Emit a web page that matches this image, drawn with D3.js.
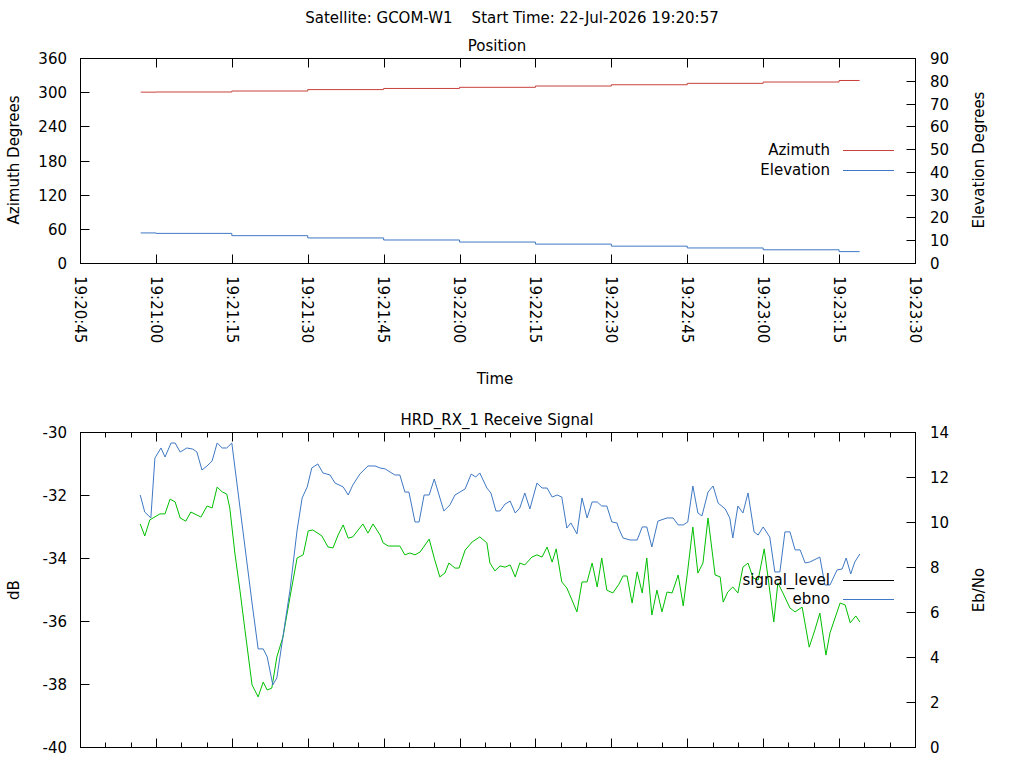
<!DOCTYPE html>
<html><head><meta charset="utf-8">
<script src="https://cdn.jsdelivr.net/npm/d3@7"></script>
<style>body{margin:0;background:#fff}svg{font-family:"DejaVu Sans",sans-serif;font-size:15px}</style>
</head><body><svg id="c" width="1024" height="768"></svg>
<script>
// time offsets in seconds from 19:20:45
const posTime = [12,15,30,45,60,75,90,105,120,135,150,154];
const azimuth = [300,300.3,302,304.5,306.5,308.5,310.8,313,315.5,317.8,320.5,321.5];
const elevation = [13.2,13.0,12.0,11.0,10.1,9.2,8.3,7.4,6.6,5.8,5.0,4.8];
const xTickLabels = ["19:20:45","19:21:00","19:21:15","19:21:30","19:21:45","19:22:00","19:22:15","19:22:30","19:22:45","19:23:00","19:23:15","19:23:30"];
const sigTime = [11.9,12.8,13.8,15.8,16.8,17.8,18.8,19.8,20.9,21.9,23.9,25.1,26.1,27.1,28.1,29.0,29.6,30.6,31.6,32.6,34.0,35.2,36.2,37.0,37.9,38.9,40.1,41.5,42.9,44.1,45.1,46.0,47.8,49.0,50.0,51.0,52.0,53.0,53.9,55.9,56.9,57.9,59.3,59.9,60.9,63.2,64.2,65.2,66.2,67.2,69.0,70.1,71.1,72.1,72.9,74.1,74.9,76.1,77.5,79.0,80.4,81.0,82.0,83.0,84.0,85.0,86.0,86.9,87.9,89.3,90.3,91.3,92.3,93.3,94.1,95.2,96.2,97.2,98.2,99.2,100.2,101.2,102.2,103.1,104.1,105.3,106.5,107.3,108.1,109.1,110.1,111.1,112.0,113.0,114.0,115.0,116.0,117.0,118.2,119.2,120.1,121.1,122.1,123.1,124.1,125.5,126.5,127.1,128.0,129.0,130.0,131.0,132.0,133.0,134.0,135.2,136.1,137.1,137.9,138.9,140.3,141.3,142.7,144.1,145.2,146.2,147.4,148.2,150.2,151.2,152.2,153.3,154.1];
const signalLevel = [-32.92,-33.30,-32.79,-32.60,-32.60,-32.13,-32.22,-32.73,-32.83,-32.54,-32.70,-32.35,-32.41,-31.75,-31.90,-31.97,-32.41,-33.84,-35.02,-36.29,-38.03,-38.41,-37.94,-38.19,-38.13,-37.14,-36.51,-35.24,-34.00,-33.90,-33.14,-33.11,-33.30,-33.65,-33.68,-33.27,-32.95,-33.37,-33.33,-32.92,-33.21,-32.92,-33.27,-33.52,-33.62,-33.62,-33.90,-33.84,-33.90,-33.81,-33.40,-34.06,-34.60,-34.48,-34.16,-34.32,-34.32,-33.75,-33.49,-33.33,-33.52,-34.16,-34.41,-34.25,-34.29,-34.22,-34.60,-34.16,-34.22,-33.97,-33.90,-33.97,-33.65,-34.13,-33.71,-34.76,-34.95,-35.33,-35.71,-34.76,-34.76,-34.16,-34.92,-34.00,-35.02,-35.11,-34.83,-34.57,-34.57,-35.43,-34.44,-35.11,-34.00,-35.81,-35.02,-35.71,-35.08,-35.11,-34.54,-35.52,-34.38,-33.02,-34.48,-34.16,-32.73,-34.54,-34.60,-35.40,-35.08,-34.92,-35.11,-34.29,-34.16,-34.63,-34.70,-33.71,-34.79,-36.03,-34.79,-35.11,-35.59,-35.71,-35.56,-36.83,-36.29,-35.75,-37.08,-36.38,-35.43,-35.49,-36.06,-35.84,-36.03];
const ebnoTime = [11.9,12.8,14.0,14.8,16.0,16.8,18.0,18.8,19.8,21.1,22.3,23.1,24.1,25.1,26.1,27.1,28.1,29.0,30.0,31.0,32.6,34.0,35.2,36.2,37.0,38.1,38.9,40.1,41.5,42.9,43.9,44.9,45.8,47.0,48.0,49.4,50.4,52.0,53.0,53.9,55.3,56.9,58.3,59.3,60.3,62.2,63.2,64.2,65.0,66.2,67.0,68.0,69.0,70.0,71.9,73.1,74.1,76.1,77.3,78.2,79.0,80.4,81.2,82.2,83.0,84.0,85.0,86.0,86.9,87.9,88.9,90.3,91.3,92.3,93.3,94.3,95.2,96.2,97.0,98.2,99.2,100.2,101.2,102.2,103.1,104.1,105.1,106.1,106.5,107.3,108.7,110.1,111.1,112.0,113.0,114.2,116.0,117.2,118.2,119.2,120.1,121.1,122.1,122.9,124.1,125.1,126.1,127.5,128.4,129.0,130.0,131.0,132.0,133.2,134.0,135.0,136.3,137.3,138.3,139.3,140.3,141.3,142.3,143.3,144.2,146.2,147.2,148.2,149.6,150.6,151.4,152.3,153.1,154.1];
const ebno = [11.20,10.44,10.18,12.84,13.29,12.89,13.51,13.51,13.11,13.29,13.24,13.11,12.31,12.49,12.71,13.51,13.29,13.29,13.51,11.73,8.89,6.40,4.36,4.36,4.00,2.76,3.07,4.89,6.98,9.64,11.07,11.56,12.40,12.58,12.18,12.09,11.73,11.56,11.20,11.64,12.13,12.49,12.49,12.40,12.36,12.09,12.09,11.33,11.33,10.00,10.00,11.20,11.20,11.91,10.49,10.76,11.20,11.47,12.13,12.00,12.18,11.51,11.29,10.49,10.49,10.80,10.93,10.40,10.62,11.29,10.58,11.73,11.51,11.51,11.11,11.20,11.11,9.73,9.96,9.47,11.07,10.18,10.89,10.89,10.71,10.71,10.00,9.96,9.69,9.29,9.20,9.20,9.78,9.78,8.89,10.04,10.18,10.18,9.87,9.87,10.00,11.60,10.40,10.27,11.33,11.60,10.84,10.58,10.18,9.29,10.71,10.40,11.29,9.56,9.42,9.78,9.33,7.78,7.78,9.56,9.56,8.76,8.76,8.18,8.22,8.44,7.20,7.20,7.87,7.91,8.40,7.69,8.22,8.58];
const azTicks = [0,60,120,180,240,300,360];
const elTicks = [0,10,20,30,40,50,60,70,80,90];
const dbTicks = [-40,-38,-36,-34,-32,-30];
const ebTicks = [0,2,4,6,8,10,12,14];

const svg = d3.select("#c");
const RED="#c8403c", BLUE="#3f78c4", GREEN="#00c000";
const x = d3.scaleLinear().domain([0,165]).range([80,915]);
const majorT = d3.range(0,166,15), minorT = d3.range(0,166,5);

svg.append("text").attr("x",512).attr("y",23).attr("text-anchor","middle").style("white-space","pre").text("Satellite: GCOM-W1    Start Time: 22-Jul-2026 19:20:57");

function frame(top,bot,yL,yR,lT,rT,title,minorX){
  const g=svg.append("g").attr("stroke","#000").attr("fill","none").attr("stroke-width",1);
  g.append("rect").attr("x",80.5).attr("y",top+.5).attr("width",835).attr("height",bot-top);
  const xt = minorX ? minorT : majorT;
  xt.forEach(t=>{const L = (t%15===0)?9:5; const xx=Math.round(x(t))+.5;
    g.append("line").attr("x1",xx).attr("x2",xx).attr("y1",bot+.5).attr("y2",bot+.5-L);
    g.append("line").attr("x1",xx).attr("x2",xx).attr("y1",top+.5).attr("y2",top+.5+L);});
  lT.forEach(v=>{const yy=Math.round(yL(v))+.5;
    g.append("line").attr("x1",80.5).attr("x2",89.5).attr("y1",yy).attr("y2",yy);
    svg.append("text").attr("x",67).attr("y",yy).attr("dy","0.35em").attr("text-anchor","end").text(v);});
  rT.forEach(v=>{const yy=Math.round(yR(v))+.5;
    g.append("line").attr("x1",906.5).attr("x2",915.5).attr("y1",yy).attr("y2",yy);
    svg.append("text").attr("x",930).attr("y",yy).attr("dy","0.35em").text(v);});
  svg.append("text").attr("x",497).attr("y",top-7).attr("text-anchor","middle").text(title);
}

// Top plot
const yAz=d3.scaleLinear().domain([0,360]).range([263,58]);
const yEl=d3.scaleLinear().domain([0,90]).range([263,58]);
frame(58,263,yAz,yEl,azTicks,elTicks,"Position",false);
majorT.forEach((t,i)=>{
  svg.append("text").attr("transform",`translate(${x(t)},276) rotate(90)`).attr("dy","0.35em").text(xTickLabels[i]);});
svg.append("text").attr("x",495).attr("y",384).attr("text-anchor","middle").text("Time");
svg.append("text").attr("transform","translate(19,160) rotate(-90)").attr("text-anchor","middle").text("Azimuth Degrees");
svg.append("text").attr("transform","translate(984,160) rotate(-90)").attr("text-anchor","middle").text("Elevation Degrees");
svg.append("path").datum(posTime.map((t,i)=>[t,azimuth[i]])).attr("fill","none").attr("stroke",RED)
  .attr("d",d3.line().x(d=>x(d[0])).y(d=>yAz(d[1])).curve(d3.curveStepAfter));
svg.append("path").datum(posTime.map((t,i)=>[t,elevation[i]])).attr("fill","none").attr("stroke",BLUE)
  .attr("d",d3.line().x(d=>x(d[0])).y(d=>yEl(d[1])).curve(d3.curveStepAfter));
[["Azimuth",RED,150],["Elevation",BLUE,170]].forEach(([n,c,yy])=>{
  svg.append("text").attr("x",830).attr("y",yy).attr("dy","0.35em").attr("text-anchor","end").text(n);
  svg.append("line").attr("x1",843).attr("x2",894).attr("y1",yy+.5).attr("y2",yy+.5).attr("stroke",c);});

// Bottom plot
const yDb=d3.scaleLinear().domain([-40,-30]).range([747,432]);
const yEb=d3.scaleLinear().domain([0,14]).range([747,432]);
frame(432,747,yDb,yEb,dbTicks,ebTicks,"HRD_RX_1 Receive Signal",true);
svg.append("text").attr("transform","translate(19,590) rotate(-90)").attr("text-anchor","middle").text("dB");
svg.append("text").attr("transform","translate(984,590) rotate(-90)").attr("text-anchor","middle").text("Eb/No");
svg.append("path").datum(sigTime.map((t,i)=>[t,signalLevel[i]])).attr("fill","none").attr("stroke",GREEN)
  .attr("d",d3.line().x(d=>x(d[0])).y(d=>yDb(d[1])));
svg.append("path").datum(ebnoTime.map((t,i)=>[t,ebno[i]])).attr("fill","none").attr("stroke",BLUE)
  .attr("d",d3.line().x(d=>x(d[0])).y(d=>yEb(d[1])));
[["signal_level","#000",580],["ebno",BLUE,599]].forEach(([n,c,yy])=>{
  svg.append("text").attr("x",830).attr("y",yy).attr("dy","0.35em").attr("text-anchor","end").text(n);
  svg.append("line").attr("x1",843).attr("x2",894).attr("y1",yy+.5).attr("y2",yy+.5).attr("stroke",c);});
</script></body></html>
